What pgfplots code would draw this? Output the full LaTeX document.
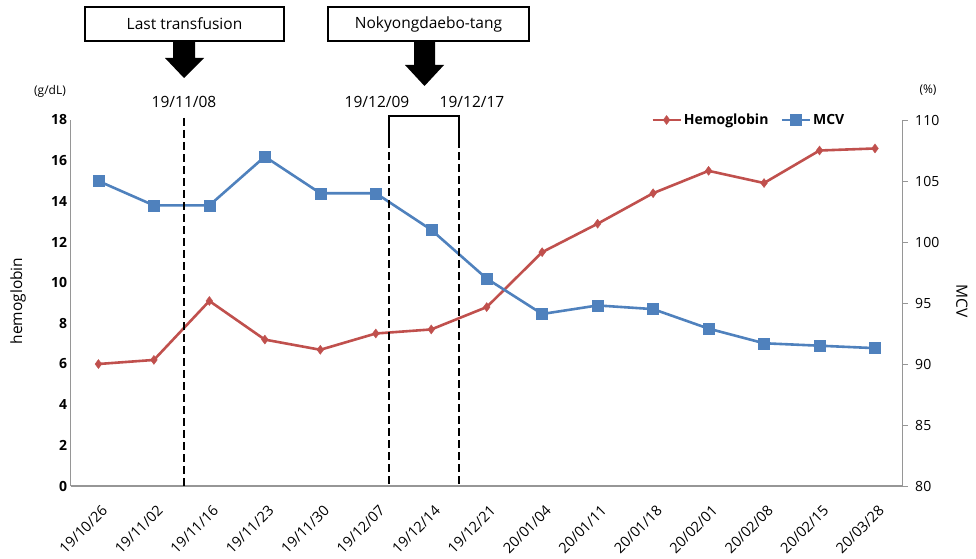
\documentclass[border=0pt]{standalone}
\usepackage{fontspec}
\setmainfont{Open Sans}
\usepackage{pgfplots}
\usepackage{pgfplotstable}
\pgfplotsset{compat=1.18}

\definecolor{hgbred}{RGB}{192,80,77}
\definecolor{mcvblue}{RGB}{79,129,189}
\definecolor{axgray}{RGB}{150,150,150}

% hemoglobin (g/dL) and MCV per visit
\pgfplotstableread{
idx hgb mcv
0  6.0  105.0
1  6.2  103.0
2  9.1  103.0
3  7.2  107.0
4  6.7  104.0
5  7.5  104.0
6  7.7  101.0
7  8.8  97.0
8  11.5 94.1
9  12.9 94.8
10 14.4 94.5
11 15.5 92.9
12 14.9 91.7
13 16.5 91.5
14 16.6 91.3
}\labdata

\pgfplotsset{
  base/.style={
    at={(70.7pt,72pt)}, anchor=south west,
    width=832pt, height=366pt, scale only axis,
    xmin=-0.5, xmax=14.5, clip=false,
    axis line style={axgray, line width=1.2pt},
    /pgf/number format/assume math mode=true,
  },
  hgb/.style={hgbred, line width=2.6pt, mark=diamond*, mark size=4.5pt,
    mark options={solid, line width=0.4pt}},
  mcv/.style={mcvblue, line width=2.6pt, mark=square*, mark size=5.5pt,
    mark options={solid, line width=0.4pt}},
}

\begin{document}
\begin{tikzpicture}[x=1pt,y=1pt]
\path[use as bounding box] (0,0) rectangle (976,558);

\begin{axis}[base,
  ymin=0, ymax=18, ytick={0,2,...,18},
  axis x line*=bottom, axis y line*=left,
  major tick length=0pt,
  xtick={0,...,14},
  xticklabels={19/10/26,19/11/02,19/11/16,19/11/23,19/11/30,19/12/07,19/12/14,19/12/21,20/01/04,20/01/11,20/01/18,20/02/01,20/02/08,20/02/15,20/03/28},
  xticklabel style={rotate=45, anchor=east, inner sep=0pt, font=\fontsize{14.5}{15}\selectfont, xshift=-11pt, yshift=-20pt},
  yticklabel style={font=\bfseries\fontsize{14}{16}\selectfont},
]
\addplot[hgb] table[x=idx, y=hgb] {\labdata};
\end{axis}

\begin{axis}[base,
  ymin=80, ymax=110, ytick={80,85,...,110},
  axis x line=none, axis y line*=right,
  xtick=\empty,
  tick align=outside, major tick length=5pt,
  tick style={axgray, line width=1pt},
  yticklabel style={font=\fontsize{14}{16}\selectfont, xshift=4pt},
  legend columns=2,
  legend style={at={(0.815,1.0)}, anchor=center, draw=none, fill=none,
    font=\bfseries\fontsize{14}{16}\selectfont,
    /tikz/every even column/.append style={column sep=10pt}},
  legend image code/.code={\draw[mark repeat=2, mark phase=2, #1]
    plot coordinates {(0pt,0pt) (14pt,0pt) (28pt,0pt)};},
]
\addlegendimage{hgb}
\addlegendentry{Hemoglobin}
\addplot[mcv] table[x=idx, y=mcv] {\labdata};
\addlegendentry{MCV}
\end{axis}

% markers of the treatment period
\draw[line width=1.8pt, dash pattern=on 8pt off 4pt] (183.7,440) -- (183.7,72);
\draw[line width=2pt] (389,418) -- (389,442) -- (459,442) -- (459,418);
\draw[line width=2pt, dash pattern=on 8pt off 4pt] (389,418) -- (389,72);
\draw[line width=2pt, dash pattern=on 8pt off 4pt] (459,418) -- (459,72);

% boxes and arrows
\draw[line width=2.4pt, fill=white] (85,517) rectangle (284,551);
\node[font=\fontsize{15.5}{17}\selectfont] at (184.5,534) {Last transfusion};
\draw[line width=2.4pt, fill=white] (328,517) rectangle (529,551);
\node[font=\fontsize{15.5}{17}\selectfont] at (428.5,534) {Nokyongdaebo-tang};
\fill (173,517) -- (195,517) -- (195,500) -- (204,500) -- (184,480) -- (165,500) -- (173,500) -- cycle;
\fill (414,517) -- (435,517) -- (435,493) -- (444,493) -- (424.5,472) -- (405,493) -- (414,493) -- cycle;

\begin{scope}[every node/.style={font=\fontsize{15.5}{17}\selectfont}]
\node at (184,456) {19/11/08};
\node at (377,456) {19/12/09};
\node at (472,456) {19/12/17};
\node[font=\fontsize{12}{13}\selectfont] at (50,467) {(g/dL)};
\node[font=\fontsize{12}{13}\selectfont] at (928,468) {(\%)};
\node[rotate=90, font=\fontsize{15.5}{17}\selectfont] at (18,257) {hemoglobin};
\node[rotate=-90, font=\fontsize{15.5}{17}\selectfont] at (962,257) {MCV};
\end{scope}
\end{tikzpicture}
\end{document}
